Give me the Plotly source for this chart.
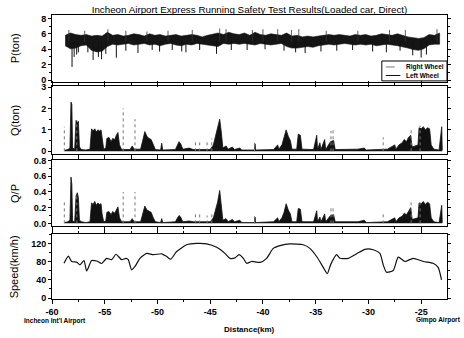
import plotly.graph_objects as go

# ---------------- data ----------------
# P (vertical wheel load, ton): envelope of the dense band, every 0.5 km
p_x = [-58.75 + 0.5 * i for i in range(72)]
p_hi = [5.8, 6.1, 5.9, 5.8, 5.9, 5.7, 5.8, 5.7, 6.2, 5.8, 5.9, 5.7, 5.8, 6.0, 5.9, 5.7,
        6.0, 5.8, 5.9, 5.7, 5.8, 5.9, 5.7, 5.8, 5.9, 5.8, 5.6, 5.8, 6.0, 6.1, 5.9, 6.2,
        6.0, 5.9, 6.1, 5.8, 6.2, 5.9, 5.8, 6.0, 5.9, 5.8, 6.1, 5.7, 5.8, 5.6, 5.7, 5.6,
        5.7, 5.8, 5.9, 5.8, 5.9, 5.8, 5.7, 5.9, 5.8, 5.9, 5.7, 5.8, 6.0, 5.9, 5.8, 6.0,
        5.8, 5.6, 5.5, 5.4, 5.5, 5.9, 5.8, 6.1]
p_lo = [4.45, 4.05, 4.15, 4.45, 4.55, 3.85, 3.65, 3.75, 4.35, 4.65, 4.55, 4.65, 4.75, 4.55,
        4.65, 4.75, 4.55, 4.65, 4.45, 4.65, 4.75, 4.55, 4.45, 4.65, 4.55, 4.75, 4.65, 4.55,
        4.45, 4.35, 4.75, 4.65, 4.75, 4.65, 4.75, 4.65, 4.55, 4.75, 4.65, 4.55, 4.65, 4.75,
        4.35, 4.15, 4.15, 4.25, 4.35, 4.25, 4.45, 4.55, 4.65, 4.55, 4.65, 4.75, 4.65, 4.55,
        4.65, 4.55, 4.65, 4.45, 4.55, 4.65, 4.55, 4.45, 4.35, 4.15, 3.95, 3.85, 4.05, 4.55,
        4.65, 4.65]
# P downward spikes (position km, minimum ton)
p_dip_x = [-58.1, -57.9, -57.66, -57.5, -56.6, -56.1, -55.6, -55.3, -54.9, -53.9, -53.0,
           -51.85, -50.5, -49.8, -48.6, -47.7, -47.3, -46.0, -44.4, -43.0, -41.5, -39.8,
           -38.0, -36.9, -36.0, -34.5, -33.0, -31.5, -29.6, -28.3, -27.0, -25.8, -25.0, -24.5]
p_dip_v = [1.7, 3.0, 3.3, 3.6, 3.6, 2.6, 3.0, 2.7, 3.4, 2.9, 3.8,
           3.5, 3.9, 3.7, 3.9, 3.7, 3.6, 3.9, 3.4, 3.9, 3.9, 4.0,
           3.8, 3.6, 3.5, 3.7, 3.8, 3.9, 3.7, 3.6, 3.8, 3.2, 2.9, 3.3]
# P upward spikes
p_up_x = [-58.4, -56.9, -54.7, -53.0, -51.0, -49.0, -46.7, -44.1, -43.5, -41.0, -40.0,
          -38.6, -37.3, -36.6, -34.0, -31.0, -28.0, -26.5, -23.5]
p_up_v = [6.5, 6.4, 6.6, 6.4, 6.3, 6.4, 6.5, 6.7, 6.6, 6.5, 6.6,
          6.6, 6.5, 6.6, 6.4, 6.4, 6.5, 6.5, 6.6]

# Q (lateral force, ton) and Q/P envelopes, left wheel
q_x = [-58.8, -58.5, -58.3, -58.2, -58.12, -58.05, -57.85, -57.72, -57.6, -57.5, -57.4,
       -57.2, -56.8, -56.4, -56.25, -56.1, -55.95, -55.8, -55.65, -55.5, -55.35, -55.25,
       -55.1, -54.9, -54.8, -54.6, -54.4, -54.25, -54.05, -53.9, -53.75, -53.6, -53.4,
       -52.6, -52.4, -52.2, -51.6, -51.4, -51.2, -51.0, -50.8, -50.6, -50.4, -50.2,
       -49.7, -49.6, -49.5, -48.3, -48.1, -47.95, -47.8, -47.6, -47.0, -46.6, -45.0,
       -44.7, -44.5, -44.3, -44.1, -43.95, -43.8, -43.5, -43.3, -42.9, -42.7, -42.2,
       -42.0, -40.8, -40.75, -40.7, -39.0, -38.6, -38.5, -38.2, -38.0, -37.8, -37.6,
       -37.4, -37.25, -36.8, -36.65, -36.45, -36.3, -35.2, -34.9, -34.82, -34.6, -34.5,
       -34.15, -34.05, -33.6, -33.3, -33.15, -31.0, -30.4, -30.2, -28.2, -27.5, -27.4,
       -27.1, -26.8, -26.6, -26.4, -26.2, -26.0, -25.85, -25.3, -25.2, -25.0, -24.8,
       -24.6, -24.4, -24.2, -24.05, -23.8, -23.3, -23.05, -23.0]
q_v = [0.05, 0.08, 0.15, 2.3, 2.2, 0.15, 0.1, 1.45, 1.35, 1.4, 0.2,
       0.08, 0.06, 0.1, 1.05, 0.95, 1.05, 0.9, 1.0, 0.95, 1.0, 0.5,
       0.1, 0.15, 0.6, 0.65, 0.45, 0.6, 0.55, 0.75, 0.88, 0.3, 0.08,
       0.08, 0.25, 0.1, 0.1, 0.5, 0.92, 0.7, 0.6, 0.55, 0.3, 0.08,
       0.06, 0.38, 0.06, 0.08, 0.3, 0.45, 0.35, 0.1, 0.15, 0.08, 0.08,
       0.3, 0.7, 1.1, 1.5, 0.9, 0.15, 0.25, 0.1, 0.2, 0.08, 0.15,
       0.06, 0.06, 0.35, 0.06, 0.08, 0.3, 0.1, 0.3, 0.6, 1.0, 0.7,
       0.5, 0.1, 0.1, 0.8, 0.75, 0.1, 0.08, 0.75, 0.08, 0.4, 0.08,
       0.55, 0.08, 0.45, 0.5, 0.08, 0.1, 0.15, 0.06, 0.1, 0.3, 0.1,
       0.3, 0.4, 0.55, 0.45, 0.65, 0.75, 0.2, 0.3, 1.1, 1.05, 1.15,
       1.0, 1.1, 1.05, 0.3, 0.1, 0.06, 1.15, 0.05]
qp_v = [0.01, 0.02, 0.04, 0.59, 0.5, 0.03, 0.02, 0.35, 0.39, 0.33, 0.04,
        0.02, 0.01, 0.02, 0.26, 0.24, 0.28, 0.23, 0.26, 0.24, 0.25, 0.12,
        0.02, 0.03, 0.14, 0.15, 0.11, 0.15, 0.13, 0.17, 0.21, 0.07, 0.02,
        0.02, 0.06, 0.02, 0.02, 0.12, 0.22, 0.17, 0.15, 0.14, 0.07, 0.02,
        0.01, 0.06, 0.01, 0.02, 0.07, 0.1, 0.08, 0.02, 0.03, 0.02, 0.02,
        0.07, 0.17, 0.27, 0.42, 0.22, 0.04, 0.06, 0.02, 0.05, 0.02, 0.04,
        0.01, 0.01, 0.08, 0.01, 0.02, 0.07, 0.02, 0.07, 0.14, 0.25, 0.17,
        0.12, 0.02, 0.02, 0.19, 0.18, 0.02, 0.02, 0.16, 0.02, 0.08, 0.02,
        0.12, 0.02, 0.1, 0.11, 0.02, 0.02, 0.04, 0.01, 0.02, 0.07, 0.02,
        0.07, 0.09, 0.13, 0.11, 0.15, 0.2, 0.05, 0.07, 0.26, 0.25, 0.28,
        0.24, 0.27, 0.25, 0.07, 0.02, 0.01, 0.23, 0.01]
# right wheel isolated spikes (dotted)
r_x = [-58.83, -57.65, -53.25, -52.13, -46.4, -46.0, -45.3, -44.85, -40.8, -33.55, -33.35,
       -28.6, -25.95, -25.1]
r_q = [1.15, 1.45, 2.0, 1.5, 0.55, 0.55, 0.45, 0.6, 0.4, 0.95, 1.0, 0.65, 1.0, 1.2]
r_qp = [0.28, 0.35, 0.4, 0.4, 0.13, 0.15, 0.1, 0.14, 0.09, 0.22, 0.22, 0.13, 0.3, 0.3]

# Speed (km/h)
s_x = [-58.86, -58.45, -58.14, -57.66, -57.35, -56.97, -56.71, -56.24, -55.76, -55.29,
       -54.82, -54.34, -53.93, -53.4, -52.99, -52.77, -52.45, -52.13, -51.66, -51.02,
       -50.39, -49.6, -49.13, -48.75, -48.18, -47.23, -46.28, -45.34, -44.39, -43.6,
       -43.13, -42.65, -42.27, -41.86, -41.55, -41.07, -40.28, -39.65, -39.02, -38.39,
       -37.44, -36.18, -35.55, -34.91, -34.28, -33.9, -33.58, -33.02, -32.7, -31.91,
       -31.12, -30.33, -29.54, -28.91, -28.6, -28.28, -27.65, -27.17, -26.54, -25.75,
       -24.8, -23.86, -23.39, -23.07]
s_v = [77, 93, 81, 79.5, 73.6, 83, 60, 83, 82, 76.5,
       88, 85, 97, 85, 88, 85, 62.5, 70, 88, 99,
       96, 98, 92, 86, 103, 118, 121, 120, 112.6, 99,
       88, 89, 96, 88, 77, 81, 79, 88, 110, 116,
       120, 118, 110, 92, 68, 54, 74, 96, 88, 88,
       98, 108, 107, 99, 74, 57, 61, 90.5, 81, 88,
       81, 77, 68, 40]

x_ticks = [-60, -55, -50, -45, -40, -35, -30, -25]
legend_names = ["Right Wheel", "Left Wheel"]
title_text = "Incheon Airport Express Running Safety Test Results(Loaded car, Direct)"

# ---------------- helpers ----------------
def segs(xs, base, tops):
    X, Y = [], []
    for xv, tv in zip(xs, tops):
        X += [xv, xv, None]
        Y += [base, tv, None]
    return X, Y

FONT = "Liberation Sans, Arial, sans-serif"
fig = go.Figure()

# P panel
fig.add_trace(go.Scatter(x=p_x + p_x[::-1], y=p_hi + p_lo[::-1], fill="toself",
                         fillcolor="#151515", line=dict(color="#151515", width=0.6),
                         mode="lines", showlegend=False, xaxis="x", yaxis="y",
                         hoverinfo="skip"))
dx, dy = segs(p_dip_x, 5.0, p_dip_v)
fig.add_trace(go.Scatter(x=dx, y=dy, mode="lines", line=dict(color="#111", width=1),
                         showlegend=False, xaxis="x", yaxis="y"))
ux, uy = segs(p_up_x, 5.0, p_up_v)
fig.add_trace(go.Scatter(x=ux, y=uy, mode="lines", line=dict(color="#333", width=0.8),
                         showlegend=False, xaxis="x", yaxis="y"))

# Q panel
fig.add_trace(go.Scatter(x=q_x, y=q_v, mode="lines", fill="tozeroy", fillcolor="#111",
                         line=dict(color="#111", width=0.8), showlegend=False,
                         xaxis="x2", yaxis="y2"))
rx, ry = segs(r_x, 0, r_q)
fig.add_trace(go.Scatter(x=rx, y=ry, mode="lines",
                         line=dict(color="#777", width=1, dash="dot"),
                         showlegend=False, xaxis="x2", yaxis="y2"))

# Q/P panel
fig.add_trace(go.Scatter(x=q_x, y=qp_v, mode="lines", fill="tozeroy", fillcolor="#111",
                         line=dict(color="#111", width=0.8), showlegend=False,
                         xaxis="x3", yaxis="y3"))
rx2, ry2 = segs(r_x, 0, r_qp)
fig.add_trace(go.Scatter(x=rx2, y=ry2, mode="lines",
                         line=dict(color="#777", width=1, dash="dot"),
                         showlegend=False, xaxis="x3", yaxis="y3"))

# Speed panel
fig.add_trace(go.Scatter(x=s_x, y=s_v, mode="lines",
                         line=dict(color="#111", width=1.2, shape="spline", smoothing=0.6),
                         showlegend=False, xaxis="x4", yaxis="y4"))

tickfont = dict(family=FONT, size=9, color="#000", weight="bold")

def xax(anchor, show, mirror="ticks"):
    return dict(range=[-60, -22.55], anchor=anchor, tickmode="array", tickvals=x_ticks,
                ticktext=[str(v) for v in x_ticks], showticklabels=show,
                ticks="outside", ticklen=4, tickwidth=1, tickcolor="#000",
                minor=dict(dtick=2.5, tick0=-60, ticklen=2, ticks="outside", tickcolor="#000"),
                showline=True, linecolor="#000", linewidth=1, mirror=mirror,
                showgrid=False, zeroline=False, tickfont=tickfont, automargin=False)

def yax(anchor, dom, rng, dtick, minor_dtick, fmt=None):
    d = dict(domain=dom, range=rng, anchor=anchor, dtick=dtick, tick0=0,
             ticks="outside", ticklen=3, tickwidth=1, tickcolor="#000",
             minor=dict(dtick=minor_dtick, ticklen=2, ticks="outside", tickcolor="#000"),
             showline=True, linecolor="#000", linewidth=1, mirror="ticks",
             showgrid=False, zeroline=False, tickfont=tickfont, automargin=False)
    if fmt:
        d["tickformat"] = fmt
    return d

fig.update_layout(
    width=464, height=338, autosize=False,
    margin=dict(l=52, r=17, t=15, b=39, autoexpand=False),
    paper_bgcolor="white", plot_bgcolor="white",
    font=dict(family=FONT, color="#000"),
    title=dict(text=title_text, x=0.5, xref="paper", y=1 - 9.5 / 338, yanchor="middle",
               font=dict(family=FONT, size=9.8, color="#000")),
    xaxis=xax("y", False, mirror=True), xaxis2=xax("y2", False), xaxis3=xax("y3", False),
    xaxis4=xax("y4", True),
    yaxis=yax("x", [0.765, 1.0], [-0.22, 8.44], 2, 1),
    yaxis2=yax("x2", [0.511, 0.750], [-0.12, 3.05], 1, 0.5),
    yaxis3=yax("x3", [0.257, 0.489], [-0.034, 0.806], 0.2, 0.1, ".1f"),
    yaxis4=yax("x4", [0.0, 0.229], [-2.2, 142], 40, 20),
    showlegend=False,
)

# legend drawn as a small framed key inside the P panel (bottom right)
shapes = [
    dict(type="rect", xref="paper", yref="paper", x0=0.835, x1=1.0, y0=0.768, y1=0.838,
         line=dict(color="#000", width=1), fillcolor="white", layer="above"),
    dict(type="line", xref="paper", yref="paper", x0=0.845, x1=0.878, y0=0.817, y1=0.817,
         line=dict(color="#777", width=1, dash="dash"), layer="above"),
    dict(type="line", xref="paper", yref="paper", x0=0.845, x1=0.882, y0=0.787, y1=0.787,
         line=dict(color="#111", width=1), layer="above"),
]
ann = []
for name, yy in zip(legend_names, [0.817, 0.787]):
    ann.append(dict(text=name, xref="paper", yref="paper", x=0.892, y=yy, showarrow=False,
                    xanchor="left", yanchor="middle",
                    font=dict(family=FONT, size=6.5, color="#000", weight="bold")))
for txt, yy in [("P(ton)", 0.8825), ("Q(ton)", 0.63), ("Q/P", 0.373), ("Speed(km/h)", 0.1145)]:
    ann.append(dict(text=txt, xref="paper", yref="paper", x=-0.094, y=yy, textangle=-90,
                    showarrow=False, xanchor="center", yanchor="middle",
                    font=dict(family=FONT, size=11, color="#000")))
ann.append(dict(text="Distance(km)", xref="paper", yref="paper", x=0.5, y=-0.109,
                showarrow=False, xanchor="center", yanchor="middle",
                font=dict(family=FONT, size=8, color="#000", weight="bold")))
ann.append(dict(text="Incheon Int'l Airport", xref="paper", yref="paper", x=-0.076, y=-0.078,
                showarrow=False, xanchor="left", yanchor="middle",
                font=dict(family=FONT, size=6.5, color="#000", weight="bold")))
ann.append(dict(text="Gimpo Airport", xref="paper", yref="paper", x=1.04, y=-0.075,
                showarrow=False, xanchor="right", yanchor="middle",
                font=dict(family=FONT, size=6.5, color="#000", weight="bold")))
fig.update_layout(annotations=ann, shapes=shapes)

fig.write_html("out.html", config={"displayModeBar": False},
               post_script="document.body.style.margin='0px';")
